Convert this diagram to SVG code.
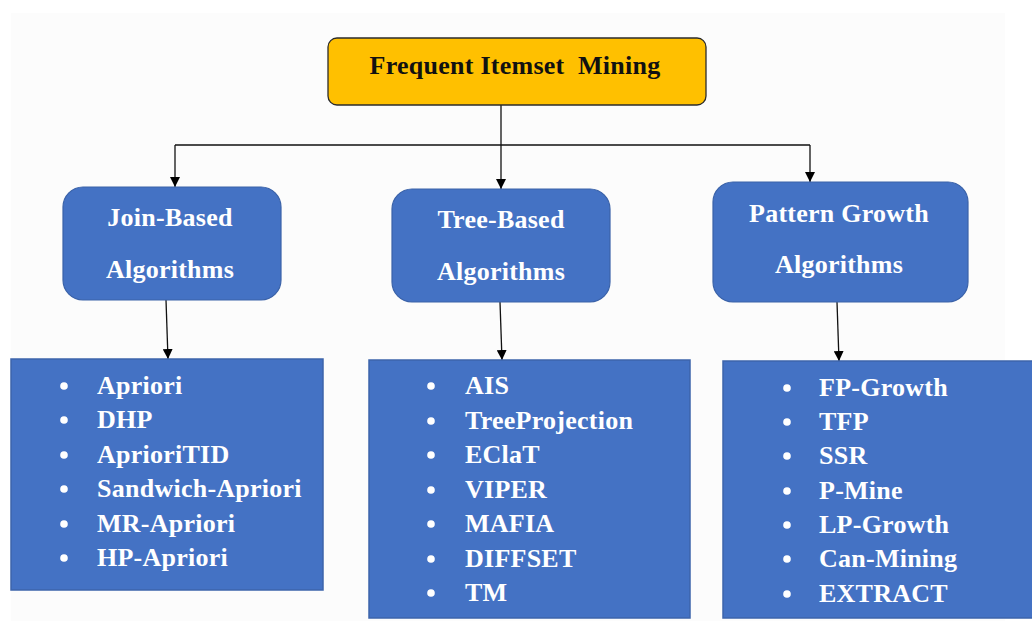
<svg xmlns="http://www.w3.org/2000/svg" width="1032" height="621" viewBox="0 0 1032 621">
  <style>
    .root { fill: #ffc000; stroke: #2b2b2b; stroke-width: 1.3; }
    .cat { fill: #4472c4; stroke: #3a62a8; stroke-width: 1.2; }
    .list { fill: #4472c4; stroke: #3d64ab; stroke-width: 1.5; }
    .t { font-family: "Liberation Serif", "Times New Roman", serif; font-weight: bold; font-size: 26px; letter-spacing: 0.25px; }
    .title { fill: #111; }
    .head { fill: #ffffff; text-anchor: middle; }
    .item { fill: #ffffff; }
    .bul { fill: #ffffff; }
    .wire { stroke: #111; stroke-width: 1.3; fill: none; }
  </style>
  <defs>
    <marker id="ah" viewBox="0 0 10 10" refX="10" refY="5" markerWidth="10" markerHeight="10" markerUnits="userSpaceOnUse" orient="auto">
      <path d="M0,0 L10,5 L0,10 z" fill="#000"/>
    </marker>
  </defs>

  <!-- page background -->
  <rect x="0" y="0" width="1032" height="621" fill="#ffffff"/>
  <rect x="11" y="13" width="994" height="608" fill="#fcfcfc"/>

  <!-- connectors -->
  <g id="connectors">
    <line class="wire" x1="501" y1="105" x2="501" y2="145"/>
    <line class="wire" x1="175" y1="145" x2="810" y2="145"/>
    <line class="wire" x1="175" y1="145" x2="175" y2="187" marker-end="url(#ah)"/>
    <line class="wire" x1="501" y1="145" x2="501" y2="189" marker-end="url(#ah)"/>
    <line class="wire" x1="810" y1="145" x2="810" y2="182" marker-end="url(#ah)"/>
    <line class="wire" x1="166" y1="300" x2="168" y2="359" marker-end="url(#ah)"/>
    <line class="wire" x1="500" y1="302" x2="502" y2="360" marker-end="url(#ah)"/>
    <line class="wire" x1="837" y1="302" x2="839" y2="361" marker-end="url(#ah)"/>
  </g>

  <!-- root -->
  <g id="frequent-itemset-mining">
    <rect class="root" x="328" y="38" width="378" height="67" rx="9"/>
    <text class="t title" x="515" y="74" text-anchor="middle">Frequent Itemset&#160; Mining</text>
  </g>

  <!-- categories -->
  <g id="join-based">
    <rect class="cat" x="63" y="187" width="218" height="113" rx="20"/>
    <text class="t head" x="170" y="226">Join-Based</text>
    <text class="t head" x="170" y="278">Algorithms</text>
  </g>
  <g id="tree-based">
    <rect class="cat" x="392" y="189" width="218" height="113" rx="20"/>
    <text class="t head" x="501" y="228">Tree-Based</text>
    <text class="t head" x="501" y="280">Algorithms</text>
  </g>
  <g id="pattern-growth">
    <rect class="cat" x="713" y="182" width="255" height="120" rx="20"/>
    <text class="t head" x="839" y="222">Pattern Growth</text>
    <text class="t head" x="839" y="273">Algorithms</text>
  </g>

  <!-- algorithm lists -->
  <g id="join-based-list">
    <rect class="list" x="11" y="359" width="312" height="231"/>
    <g class="bul">
      <circle cx="64" cy="386" r="3.8"/><circle cx="64" cy="420" r="3.8"/><circle cx="64" cy="455" r="3.8"/>
      <circle cx="64" cy="489" r="3.8"/><circle cx="64" cy="524" r="3.8"/><circle cx="64" cy="558" r="3.8"/>
    </g>
    <text class="t item" x="97" y="394">Apriori</text>
    <text class="t item" x="97" y="428">DHP</text>
    <text class="t item" x="97" y="463">AprioriTID</text>
    <text class="t item" x="97" y="497">Sandwich-Apriori</text>
    <text class="t item" x="97" y="532">MR-Apriori</text>
    <text class="t item" x="97" y="566">HP-Apriori</text>
  </g>
  <g id="tree-based-list">
    <rect class="list" x="369" y="360" width="321" height="258"/>
    <g class="bul">
      <circle cx="431" cy="386" r="3.8"/><circle cx="431" cy="421" r="3.8"/><circle cx="431" cy="455" r="3.8"/>
      <circle cx="431" cy="490" r="3.8"/><circle cx="431" cy="524" r="3.8"/><circle cx="431" cy="559" r="3.8"/>
      <circle cx="431" cy="593" r="3.8"/>
    </g>
    <text class="t item" x="465" y="394">AIS</text>
    <text class="t item" x="465" y="429">TreeProjection</text>
    <text class="t item" x="465" y="463">EClaT</text>
    <text class="t item" x="465" y="498">VIPER</text>
    <text class="t item" x="465" y="532">MAFIA</text>
    <text class="t item" x="465" y="567">DIFFSET</text>
    <text class="t item" x="465" y="601">TM</text>
  </g>
  <g id="pattern-growth-list">
    <rect class="list" x="723" y="361" width="312" height="257"/>
    <g class="bul">
      <circle cx="787" cy="388" r="3.8"/><circle cx="787" cy="422" r="3.8"/><circle cx="787" cy="456" r="3.8"/>
      <circle cx="787" cy="491" r="3.8"/><circle cx="787" cy="525" r="3.8"/><circle cx="787" cy="559" r="3.8"/>
      <circle cx="787" cy="594" r="3.8"/>
    </g>
    <text class="t item" x="819" y="396">FP-Growth</text>
    <text class="t item" x="819" y="430">TFP</text>
    <text class="t item" x="819" y="464">SSR</text>
    <text class="t item" x="819" y="499">P-Mine</text>
    <text class="t item" x="819" y="533">LP-Growth</text>
    <text class="t item" x="819" y="567">Can-Mining</text>
    <text class="t item" x="819" y="602">EXTRACT</text>
  </g>
</svg>
